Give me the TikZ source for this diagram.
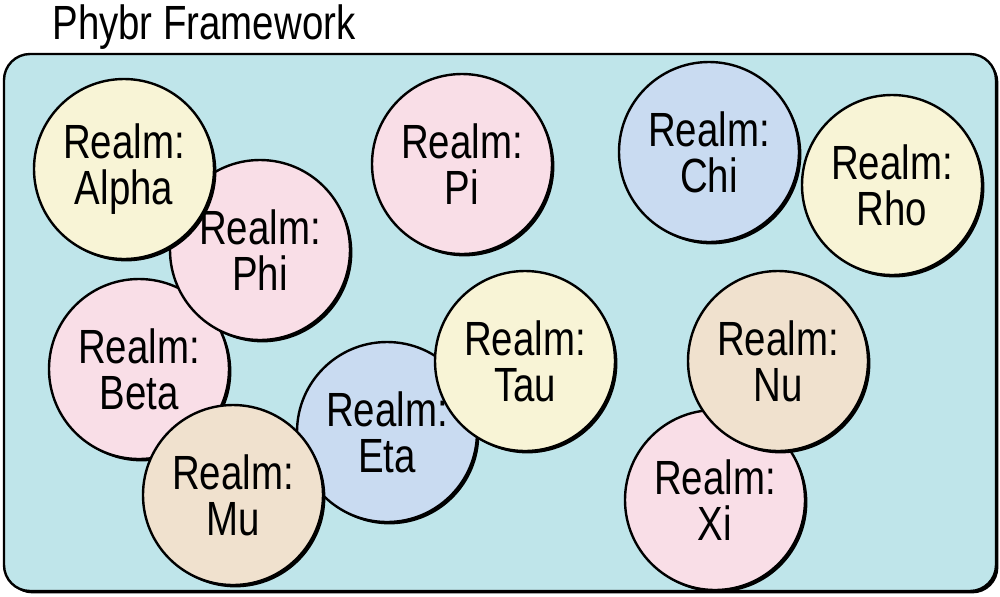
\documentclass[tikz,border=0pt]{standalone}
\usepackage{fontspec}
\setmainfont{Liberation Sans}[FakeStretch=0.8]
\usepackage{xcolor}
\usetikzlibrary{shadows}

\definecolor{realmyellow}{HTML}{F8F4D6}
\definecolor{realmpink}{HTML}{F9DEE7}
\definecolor{realmblue}{HTML}{C9DBF1}
\definecolor{realmtan}{HTML}{F0E1CE}
\definecolor{framecyan}{HTML}{BFE5EA}

\tikzset{
  hand shadow/.style={drop shadow={shadow xshift=1.2pt, shadow yshift=-1.2pt, fill=black, opacity=1}},
  realm/.style={circle, draw=black, line width=1.2pt, minimum size=90pt, inner sep=0pt,
    align=center, font=\fontsize{24}{23}\selectfont, hand shadow},
}

\begin{document}
\begin{tikzpicture}[x=0.5pt,y=-0.5pt]
  \useasboundingbox (0,0) rectangle (1000,596);
  % frame
  \node[anchor=base west, inner sep=0pt, font=\fontsize{24}{24}\selectfont] (title) at (52,39) {Phybr Framework};
  \draw[rounded corners=13pt, line width=1.2pt, fill=framecyan, hand shadow] (4,54) rectangle (996,591);

  % left cluster
  \node[realm, fill=realmpink]   (beta)  at (139,369) {Realm:\\Beta};
  \node[realm, fill=realmpink]   (phi)   at (260,250) {Realm:\\Phi};
  \node[realm, fill=realmyellow] (alpha) at (124,169) {Realm:\\Alpha};
  \node[realm, fill=realmblue]   (eta)   at (387,432) {Realm:\\Eta};
  \node[realm, fill=realmtan]    (mu)    at (233,495) {Realm:\\Mu};
  \node[realm, fill=realmyellow] (tau)   at (525,361) {Realm:\\Tau};
  \node[realm, fill=realmpink]   (pi)    at (462,164) {Realm:\\Pi};

  % right cluster
  \node[realm, fill=realmblue]   (chi)   at (709,152) {Realm:\\Chi};
  \node[realm, fill=realmyellow] (rho)   at (892,185) {Realm:\\Rho};
  \node[realm, fill=realmpink]   (xi)    at (715,500) {Realm:\\Xi};
  \node[realm, fill=realmtan]    (nu)    at (778,361) {Realm:\\Nu};
\end{tikzpicture}
\end{document}
